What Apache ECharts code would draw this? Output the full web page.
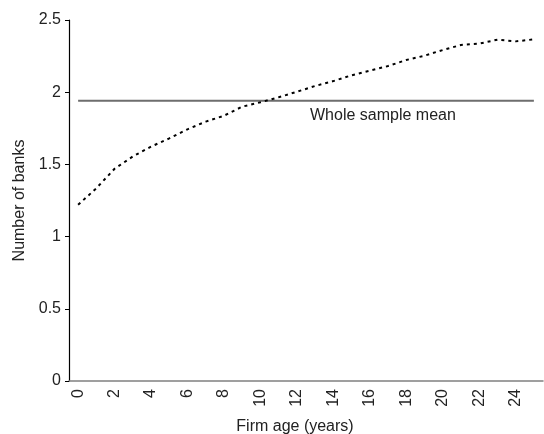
<!DOCTYPE html>
<html>
<head>
<meta charset="utf-8">
<script src="https://cdn.jsdelivr.net/npm/echarts@6/dist/echarts.min.js"></script>
<style>
html,body{margin:0;padding:0;background:#fff;}
#c{width:544px;height:434px;}
</style>
</head>
<body>
<div id="c"></div>
<script>
var categories = ['0','1','2','3','4','5','6','7','8','9','10','11','12','13','14','15','16','17','18','19','20','21','22','23','24','25'];
var banksByAge = [1.22,1.335,1.47,1.555,1.623,1.68,1.743,1.796,1.837,1.90,1.93,1.965,2.003,2.043,2.077,2.117,2.149,2.181,2.223,2.253,2.292,2.327,2.336,2.364,2.352,2.366];
var wholeSampleMean = 1.94;
var meanValues = categories.map(function(){ return wholeSampleMean; });
var meanLabel = 'Whole sample mean';
var xTitle = 'Firm age (years)';
var yTitle = 'Number of banks';

var FONT = '"Liberation Sans", Arial, sans-serif';
var chart = echarts.init(document.getElementById('c'), null, {renderer:'canvas'});
chart.setOption({
  animation:false,
  backgroundColor:'#fff',
  grid:{left:69,right:1,top:20,bottom:53,containLabel:false,outerBoundsMode:'none'},
  xAxis:{
    type:'category',
    data:categories,
    boundaryGap:true,
    name:xTitle,
    nameLocation:'middle',
    nameGap:38,
    nameTextStyle:{fontFamily:FONT,fontSize:16,color:'#222',padding:[0,22,0,0]},
    axisLine:{lineStyle:{color:'#808080',width:1.5}},
    axisTick:{interval:0,length:4,lineStyle:{color:'#444'}},
    axisLabel:{interval:1,rotate:90,fontFamily:FONT,fontSize:16,color:'#222',margin:8},
    splitLine:{show:false}
  },
  yAxis:{
    type:'value',
    min:0,max:2.5,interval:0.5,
    name:yTitle,
    nameLocation:'middle',
    nameGap:41,
    nameRotate:90,
    nameTextStyle:{fontFamily:FONT,fontSize:16,color:'#222'},
    axisLine:{show:true,lineStyle:{color:'#000',width:1.2}},
    axisTick:{show:true,length:4,lineStyle:{color:'#000'}},
    axisLabel:{fontFamily:FONT,fontSize:16,color:'#222',margin:8},
    splitLine:{show:false}
  },
  graphic:[{
    type:'text',
    left:310,top:108,
    style:{text:meanLabel,font:'16px "Liberation Sans", Arial, sans-serif',fill:'#222'}
  }],
  series:[
    {
      type:'line',
      data:meanValues,
      symbol:'none',
      lineStyle:{color:'#6e6e6e',width:2,type:'solid'},
      z:2
    },
    {
      type:'line',
      data:banksByAge,
      symbol:'none',
      lineStyle:{color:'#000',width:2,type:[3,4]},
      z:3
    }
  ]
});
</script>
</body>
</html>
